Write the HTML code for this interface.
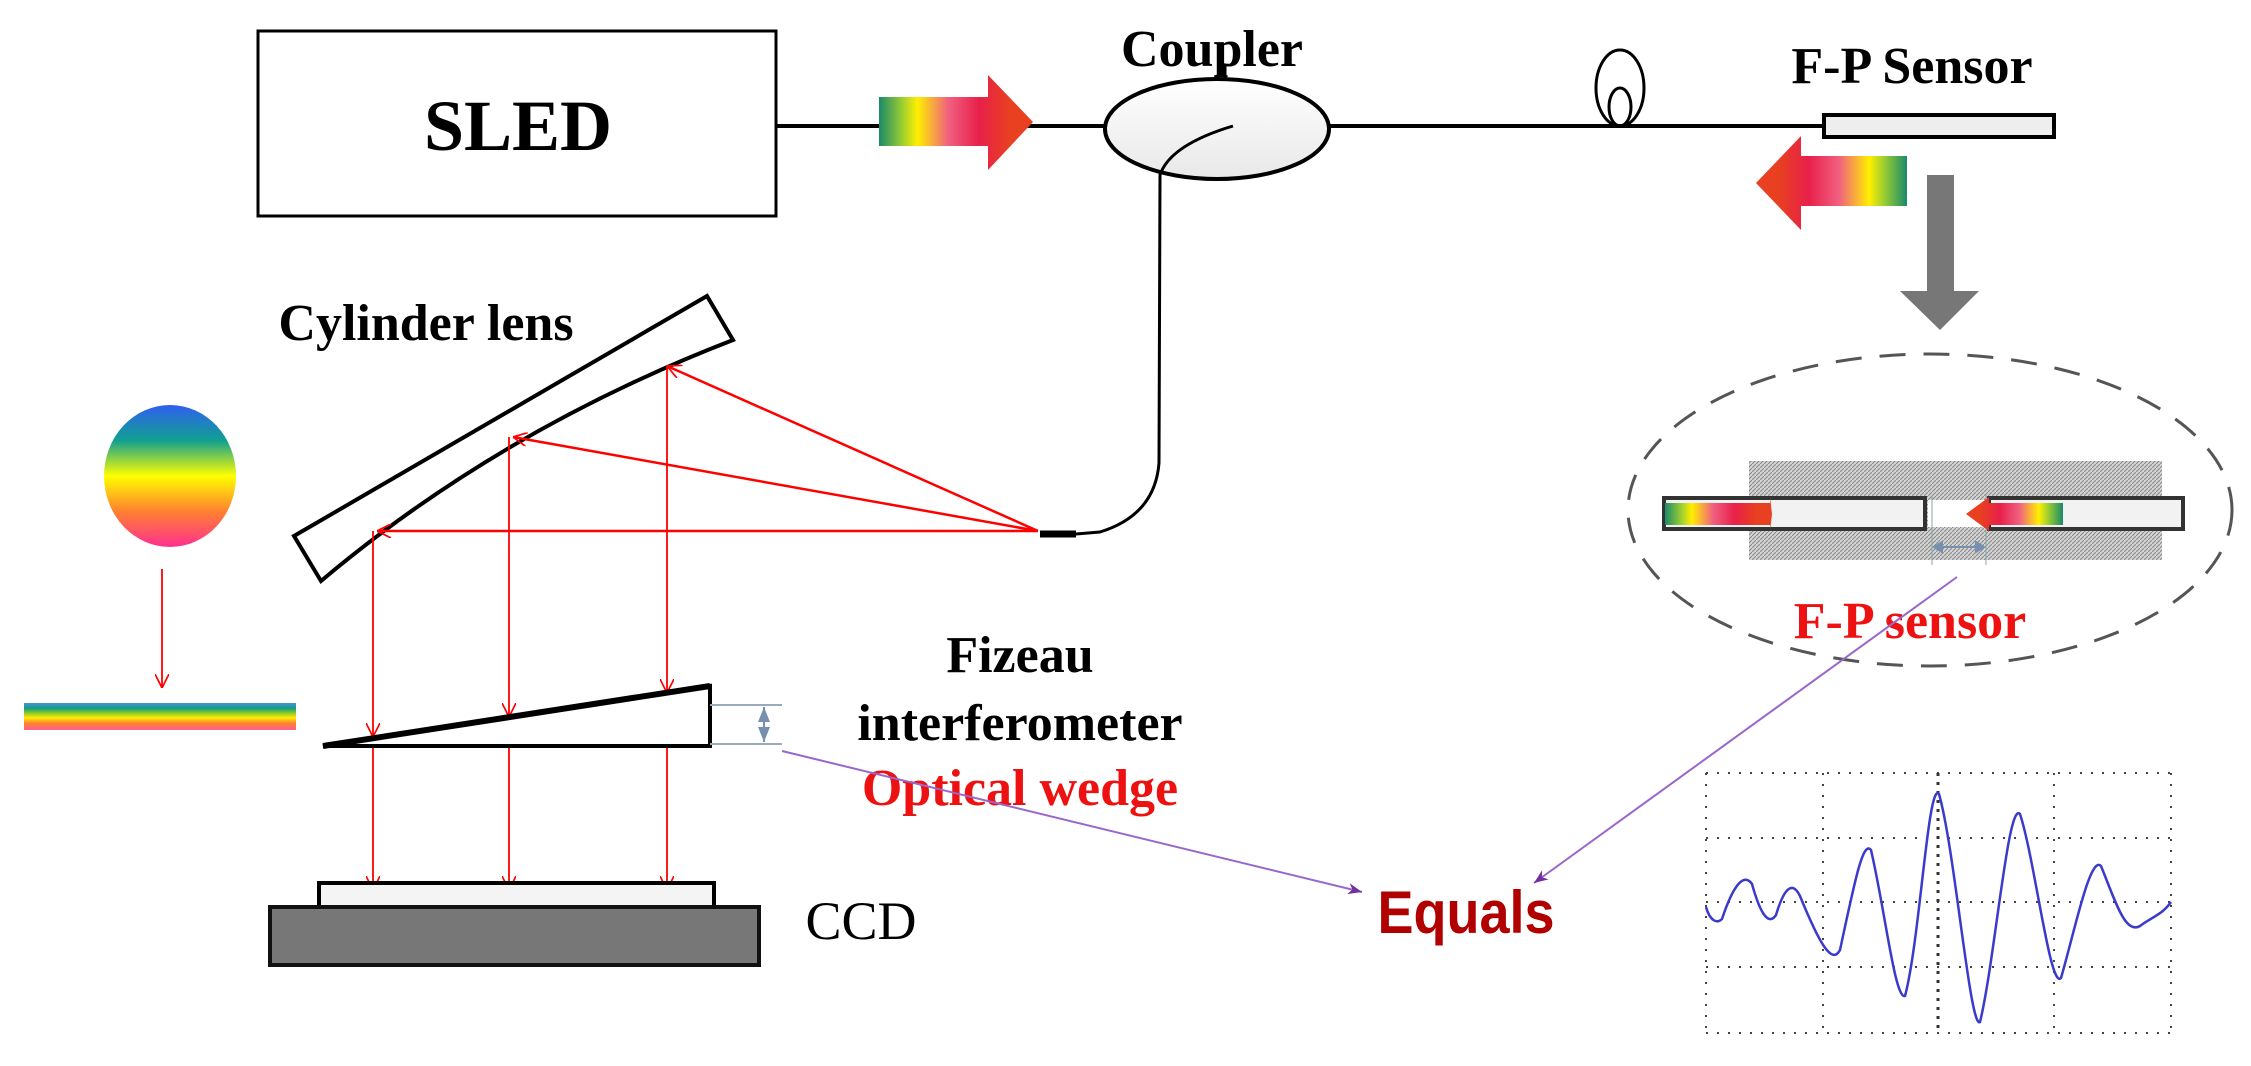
<!DOCTYPE html>
<html><head><meta charset="utf-8"><style>
html,body{margin:0;padding:0;background:#fff;}
svg{display:block;}
.t{font-family:"Liberation Serif",serif;font-weight:bold;font-size:52px;}
</style></head><body>
<svg width="2251" height="1066" viewBox="0 0 2251 1066" xmlns="http://www.w3.org/2000/svg">
<defs>
<linearGradient id="rg" x1="0" x2="1" y1="0" y2="0">
<stop offset="0" stop-color="#1a8a6a"/><stop offset="0.15" stop-color="#9acd32"/><stop offset="0.25" stop-color="#ffef00"/><stop offset="0.45" stop-color="#f06080"/><stop offset="0.65" stop-color="#e8204a"/><stop offset="0.85" stop-color="#e84020"/><stop offset="1" stop-color="#e84020"/>
</linearGradient>
<linearGradient id="rg2" x1="1" x2="0" y1="0" y2="0">
<stop offset="0" stop-color="#1a8a6a"/><stop offset="0.15" stop-color="#9acd32"/><stop offset="0.25" stop-color="#ffef00"/><stop offset="0.45" stop-color="#f06080"/><stop offset="0.65" stop-color="#e8204a"/><stop offset="0.85" stop-color="#e84020"/><stop offset="1" stop-color="#e84020"/>
</linearGradient>
<linearGradient id="disc" x1="0" x2="0" y1="0" y2="1">
<stop offset="0" stop-color="#3060f0"/><stop offset="0.25" stop-color="#10a090"/><stop offset="0.5" stop-color="#ffff00"/><stop offset="0.75" stop-color="#ff8030"/><stop offset="1" stop-color="#ff3090"/>
</linearGradient>
<linearGradient id="bar" x1="0" x2="0" y1="0" y2="1">
<stop offset="0" stop-color="#4a90e0"/><stop offset="0.2" stop-color="#10a080"/><stop offset="0.4" stop-color="#a0d020"/><stop offset="0.55" stop-color="#ffee00"/><stop offset="0.75" stop-color="#ff8030"/><stop offset="1" stop-color="#ff6090"/>
</linearGradient>
<linearGradient id="cpl" x1="0" x2="0" y1="0" y2="1"><stop offset="0" stop-color="#fff"/><stop offset="1" stop-color="#e8e8e8"/></linearGradient>
<pattern id="hatch" width="4" height="4" patternUnits="userSpaceOnUse"><rect width="4" height="4" fill="#d4d4d4"/><path d="M0 4L4 0" stroke="#888" stroke-width="1"/></pattern>
<marker id="ra" viewBox="0 0 10 10" refX="10" refY="5" markerWidth="14" markerHeight="14" orient="auto" markerUnits="userSpaceOnUse"><path d="M0 0L10 5L0 10" fill="none" stroke="#f00" stroke-width="1.2"/></marker>
<marker id="pa" viewBox="0 0 10 10" refX="10" refY="5" markerWidth="22" markerHeight="14" orient="auto" markerUnits="userSpaceOnUse"><path d="M0 1L10 5L0 9L3 5Z" fill="#7030a0"/></marker>
</defs>

<rect x="258" y="31" width="518" height="185" fill="#fff" stroke="#000" stroke-width="3"/>
<text x="518" y="150" class="t" style="font-size:72px" text-anchor="middle">SLED</text>
<line x1="776" y1="126" x2="1105" y2="126" stroke="#000" stroke-width="4"/>
<path d="M879 97H988V75L1033 122L988 170V146H879Z" fill="url(#rg)"/>

<ellipse cx="1217" cy="129" rx="112" ry="50" fill="url(#cpl)" stroke="#000" stroke-width="4"/>
<line x1="1329" y1="126" x2="1824" y2="126" stroke="#000" stroke-width="4"/>
<line x1="1225" y1="66" x2="1225" y2="80" stroke="#000" stroke-width="3"/>
<text x="1212" y="66" class="t" text-anchor="middle">Coupler</text>
<path d="M1233 126Q1170 145 1160 175L1159 463Q1155 515 1100 532L1076 534" fill="none" stroke="#000" stroke-width="3"/>
<line x1="1040" y1="534" x2="1076" y2="534" stroke="#000" stroke-width="7"/>

<ellipse cx="1620" cy="88" rx="24" ry="38" fill="none" stroke="#000" stroke-width="3"/>
<ellipse cx="1620" cy="107" rx="11" ry="19" fill="none" stroke="#000" stroke-width="3"/>

<text x="1912" y="83" class="t" text-anchor="middle">F-P Sensor</text>
<rect x="1824" y="115" width="230" height="22" fill="#eee" stroke="#000" stroke-width="4"/>
<path d="M1907 156H1801V136L1756 183L1801 230V206H1907Z" fill="url(#rg2)"/>
<path d="M1927 175H1954V291H1979L1940 330L1900 291H1927Z" fill="#777"/>

<ellipse cx="1930" cy="510" rx="302" ry="156" fill="none" stroke="#555" stroke-width="3" stroke-dasharray="26 18"/>
<rect x="1749" y="461" width="413" height="99" fill="url(#hatch)"/>
<rect x="1664" y="498" width="261" height="31" fill="#f2f2f2" stroke="#333" stroke-width="4"/>
<rect x="1989" y="498" width="194" height="31" fill="#f2f2f2" stroke="#333" stroke-width="4"/>
<rect x="1928" y="500" width="58" height="27" fill="#fff"/>
<line x1="1932" y1="495" x2="1932" y2="565" stroke="#8aa" stroke-width="1"/>
<line x1="1986" y1="495" x2="1986" y2="565" stroke="#8aa" stroke-width="1"/>
<path d="M1665 503H1770V497L1772 514L1770 531V525H1665Z" fill="url(#rg)"/>
<path d="M2063 503H1989V497L1966 514L1989 531V525H2063Z" fill="url(#rg2)"/>
<path d="M1934 547H1984M1934 547l8 -5v10zM1984 547l-8 -5v10z" stroke="#7890b0" stroke-width="2" fill="#7890b0"/>
<text x="1910" y="638" class="t" fill="#ee1111" text-anchor="middle">F-P sensor</text>

<text x="426" y="340" class="t" text-anchor="middle">Cylinder lens</text>
<path d="M707 296L733 340Q500 430 321 581L294 536Z" fill="#fff" stroke="#000" stroke-width="4"/>

<g stroke="#f00" stroke-width="2.5" fill="none">
<line x1="1038" y1="531" x2="377" y2="531" marker-end="url(#ra)"/>
<line x1="1038" y1="531" x2="513" y2="437" marker-end="url(#ra)"/>
<line x1="1038" y1="531" x2="667" y2="366" marker-end="url(#ra)"/>
</g>
<g stroke="#f00" stroke-width="1.8" fill="none">
<line x1="373" y1="531" x2="373" y2="737" marker-end="url(#ra)"/>
<line x1="509" y1="437" x2="509" y2="717" marker-end="url(#ra)"/>
<line x1="667" y1="366" x2="667" y2="693" marker-end="url(#ra)"/>
<line x1="373" y1="737" x2="373" y2="890" marker-end="url(#ra)"/>
<line x1="509" y1="717" x2="509" y2="890" marker-end="url(#ra)"/>
<line x1="667" y1="693" x2="667" y2="890" marker-end="url(#ra)"/>
<line x1="162" y1="569" x2="162" y2="688" marker-end="url(#ra)"/>
</g>

<ellipse cx="170" cy="476" rx="66" ry="71" fill="url(#disc)"/>
<rect x="24" y="703" width="272" height="27" fill="url(#bar)"/>

<path d="M323 746L710 686V746Z" fill="#fff" stroke="#000" stroke-width="4"/>
<path d="M323 746L710 686" stroke="#000" stroke-width="6"/>
<g stroke="#9ab" stroke-width="2"><line x1="710" y1="705" x2="782" y2="705"/><line x1="710" y1="744" x2="782" y2="744"/></g>
<path d="M764 707L758 722H770ZM764 742L758 727H770Z" fill="#7890b0"/>
<line x1="764" y1="707" x2="764" y2="742" stroke="#7890b0" stroke-width="2"/>

<text x="1020" y="672" class="t" text-anchor="middle">Fizeau</text>
<text x="1020" y="740" class="t" text-anchor="middle">interferometer</text>
<text x="1020" y="805" class="t" fill="#ee1111" text-anchor="middle">Optical wedge</text>

<rect x="319" y="883" width="395" height="24" fill="#f4f4f4" stroke="#000" stroke-width="4"/>
<rect x="270" y="907" width="489" height="58" fill="#777" stroke="#111" stroke-width="4"/>
<text x="861" y="939" font-family="Liberation Serif,serif" font-size="54" text-anchor="middle">CCD</text>

<line x1="782" y1="751" x2="1362" y2="892" stroke="#9966cc" stroke-width="2" marker-end="url(#pa)"/>
<line x1="1957" y1="577" x2="1534" y2="883" stroke="#9966cc" stroke-width="2" marker-end="url(#pa)"/>
<text x="1466" y="933" font-family="Liberation Sans,sans-serif" font-weight="bold" font-size="60" fill="#b00000" text-anchor="middle" transform="translate(1466 0) scale(0.9 1) translate(-1466 0)">Equals</text>

<g stroke="#444" stroke-width="2" stroke-dasharray="2 9" fill="none">
<line x1="1706" y1="773" x2="1706" y2="1033"/><line x1="1823" y1="773" x2="1823" y2="1033"/>
<line x1="2054" y1="773" x2="2054" y2="1033"/><line x1="2171" y1="773" x2="2171" y2="1033"/>
<line x1="1706" y1="773" x2="2171" y2="773"/><line x1="1706" y1="838" x2="2171" y2="838"/>
<line x1="1706" y1="902" x2="2171" y2="902"/><line x1="1706" y1="967" x2="2171" y2="967"/>
<line x1="1706" y1="1033" x2="2171" y2="1033"/>
</g>
<line x1="1938" y1="773" x2="1938" y2="1033" stroke="#333" stroke-width="3" stroke-dasharray="3 6"/>
<path d="M1706 907C1710 921 1717 924 1722 919C1735 880 1745 874 1752 884C1762 920 1770 924 1776 915C1785 885 1793 882 1800 896C1820 945 1832 965 1840 950C1855 880 1863 840 1871 850C1885 910 1895 1000 1905 996C1920 940 1928 780 1939 794C1955 850 1970 1030 1980 1022C1995 960 2008 800 2020 814C2035 860 2050 990 2061 978C2075 930 2090 855 2101 866C2115 900 2125 935 2140 926C2150 918 2162 915 2171 902" fill="none" stroke="#3a3acc" stroke-width="2.5"/>
</svg>
</body></html>
